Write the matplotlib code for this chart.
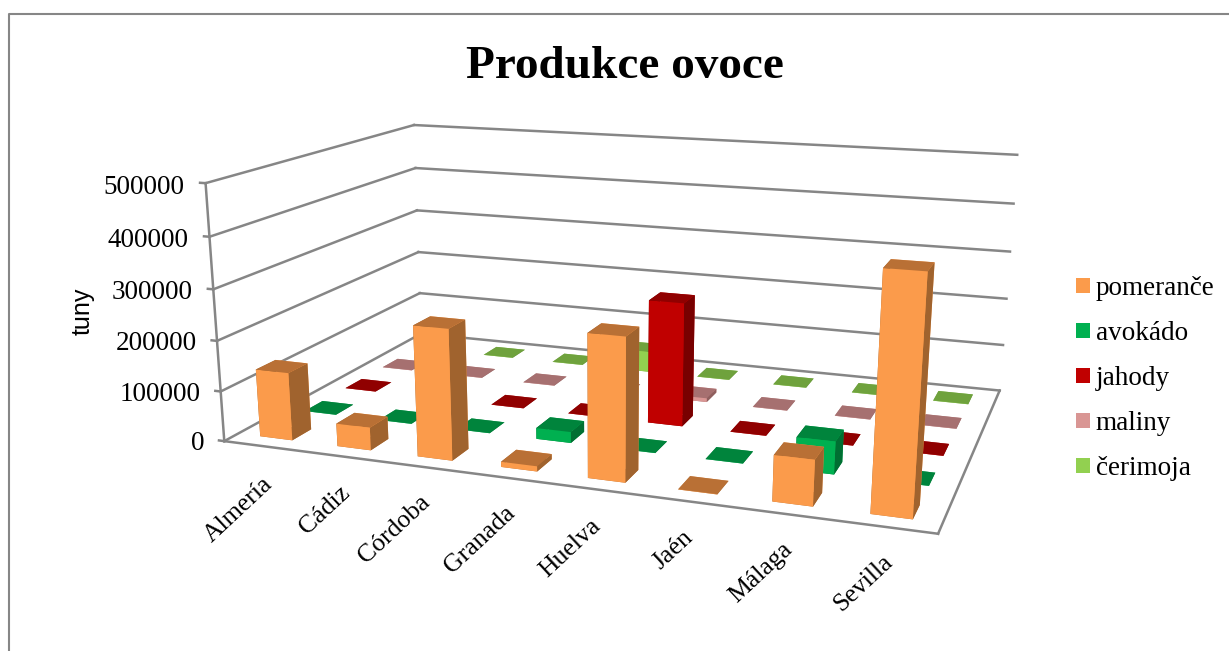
import numpy as np
import matplotlib
matplotlib.use("Agg")
from matplotlib import pyplot as plt
from matplotlib.lines import Line2D
from matplotlib.patches import Patch
from mpl_toolkits.mplot3d import proj3d
from mpl_toolkits.mplot3d.art3d import Line3DCollection

W, H = 1229, 651

categories = ["Almería", "Cádiz", "Córdoba", "Granada", "Huelva", "Jaén", "Málaga", "Sevilla"]
series_names = ["pomeranče", "avokádo", "jahody", "maliny", "čerimoja"]
pomerance = [135000, 45000, 253000, 10000, 270000, 500, 85000, 425000]
avokado = [500, 500, 500, 22000, 500, 500, 63000, 500]
jahody = [500, 500, 500, 500, 250000, 500, 500, 500]
maliny = [500, 500, 500, 500, 8000, 500, 500, 500]
cerimoja = [500, 500, 500, 45000, 500, 500, 500, 500]
z_ticks = [0, 100000, 200000, 300000, 400000, 500000]

# front, top, side shades for each series
FRONT = ["#FB9B4B", "#00B050", "#C00000", "#D99694", "#92D050"]
TOP = ["#B97035", "#00843C", "#900000", "#A67070", "#6FA23D"]
SIDE = ["#A0632E", "#006F32", "#780000", "#8F5F5E", "#5E8834"]
GRID = "#868686"
SERIF = "Liberation Serif"

# where the rotated category labels end, in box units
LABEL_X = [1.17, 2.06, 2.97, 3.90, 4.83, 5.77, 6.73, 7.67]
LABEL_Y = [-0.94, -0.90, -0.86, -0.84, -0.88, -0.845, -0.806, -0.767]

plt.rcParams["font.family"] = SERIF

fig = plt.figure(figsize=(W / 100, H / 100), dpi=100, facecolor="white")
ax = fig.add_subplot(projection="3d", computed_zorder=False)
ax.set_position([0, (H - W) / 2 / H, 1, W / H])
ax.set_axis_off()
ax.patch.set_alpha(0)
ax.apply_aspect()

x_max, y_max, z_max = len(categories), len(series_names), z_ticks[-1]

# Fit the projection to the box corners seen in the picture (Excel's 3D view
# is not something elev/azim gets close to).
corners = [
    ((0, 0, 0), (225, 441)), ((1, 0, 0), (938, 534)), ((1, 1, 0), (1000, 390)),
    ((0, 1, 0), (420, 334)), ((0, 0, 1), (205, 183)), ((0, 1, 1), (415, 125)),
    ((1, 1, 1), (1017, 155)),
]
weights = np.ones(len(corners))
for _ in range(10):
    rows, rhs = [], []
    for k, ((cx, cy, cz), (px, py)) in enumerate(corners):
        u, v = ax.transData.inverted().transform((px, H - py))
        wt = weights[k]
        rows.append(np.array([cx, cy, cz, 1, 0, 0, 0, 0, -u * cx, -u * cy, -u * cz]) * wt)
        rows.append(np.array([0, 0, 0, 0, cx, cy, cz, 1, -v * cx, -v * cy, -v * cz]) * wt)
        rhs += [u * wt, v * wt]
    p = np.linalg.lstsq(np.array(rows), np.array(rhs), rcond=None)[0]
    weights = np.array([1 / (p[8] * c[0][0] + p[9] * c[0][1] + p[10] * c[0][2] + 1) for c in corners])
M = np.array([
    [p[0], p[1], p[2], p[3]],
    [p[4], p[5], p[6], p[7]],
    [-0.3, 1.0, -0.5, 0.0],  # only used to sort the faces of a bar
    [p[8], p[9], p[10], 1.0],
]) @ np.diag([1 / x_max, 1 / y_max, 1 / z_max, 1])
ax.get_proj = lambda: M


def label(x, y, z, s, **kw):
    u, v, _ = proj3d.proj_transform(x, y, z, M)
    ax.text2D(u, v, s, transform=ax.transData, color="black", **kw)


segs = []
for z in z_ticks:
    segs.append([(-0.07, 0, z), (0, 0, z)])
    segs.append([(0, 0, z), (0, y_max, z)])
    segs.append([(0, y_max, z), (x_max, y_max, z)])
    label(-0.27, 0, z - 10000, str(z), ha="right", va="center", fontsize=19.5)
segs.append([(0, 0, 0), (0, 0, z_max)])
segs.append([(0, 0, 0), (x_max, 0, 0)])
segs.append([(x_max, 0, 0), (x_max, y_max, 0)])
ax.add_collection3d(Line3DCollection(segs, colors=GRID, linewidths=1.8, zorder=1, capstyle="projecting"))

values = [pomerance, avokado, jahody, maliny, cerimoja]
bar_w = 0.42
bar_d = 0.42
order = 10
for j in reversed(range(len(series_names))):
    for i in range(len(categories)):
        # face order in bar3d: bottom, top, front, back, left, right
        cols = [TOP[j], TOP[j], FRONT[j], FRONT[j], SIDE[j], SIDE[j]]
        ax.bar3d(i + 0.5 - bar_w / 2, j + 0.5 - bar_d / 2, 0, bar_w, bar_d, values[j][i],
                 color=cols, shade=False, zorder=order, linewidth=0)
        order += 1

for name, lx, ly in zip(categories, LABEL_X, LABEL_Y):
    label(lx, ly, 0, name, rotation=43, rotation_mode="anchor", ha="right", va="center",
          fontsize=18.5, zorder=500)

fig.text(625 / W, 1 - 67 / H, "Produkce ovoce", fontsize=34, fontweight="bold", ha="center", va="center")
fig.text(83 / W, 1 - 311 / H, "tuny", fontsize=18, family="Liberation Sans", rotation=90,
         ha="center", va="center")

# chart frame, cut off by the screenshot on the right and at the bottom
fig.add_artist(Line2D([8.5 / W, 8.5 / W, 1], [0, 1 - 13.5 / H, 1 - 13.5 / H], color=GRID, linewidth=1.5))

handles = [Patch(facecolor=c, edgecolor="none") for c in FRONT]
fig.legend(handles, series_names, loc="upper left", bbox_to_anchor=(1075.5 / W, 1 - 276 / H), frameon=False,
           fontsize=19.5, handlelength=0.52, handleheight=0.52, handletextpad=0.22, labelspacing=0.74,
           borderpad=0, borderaxespad=0)

fig.savefig("out.png", dpi=100)
